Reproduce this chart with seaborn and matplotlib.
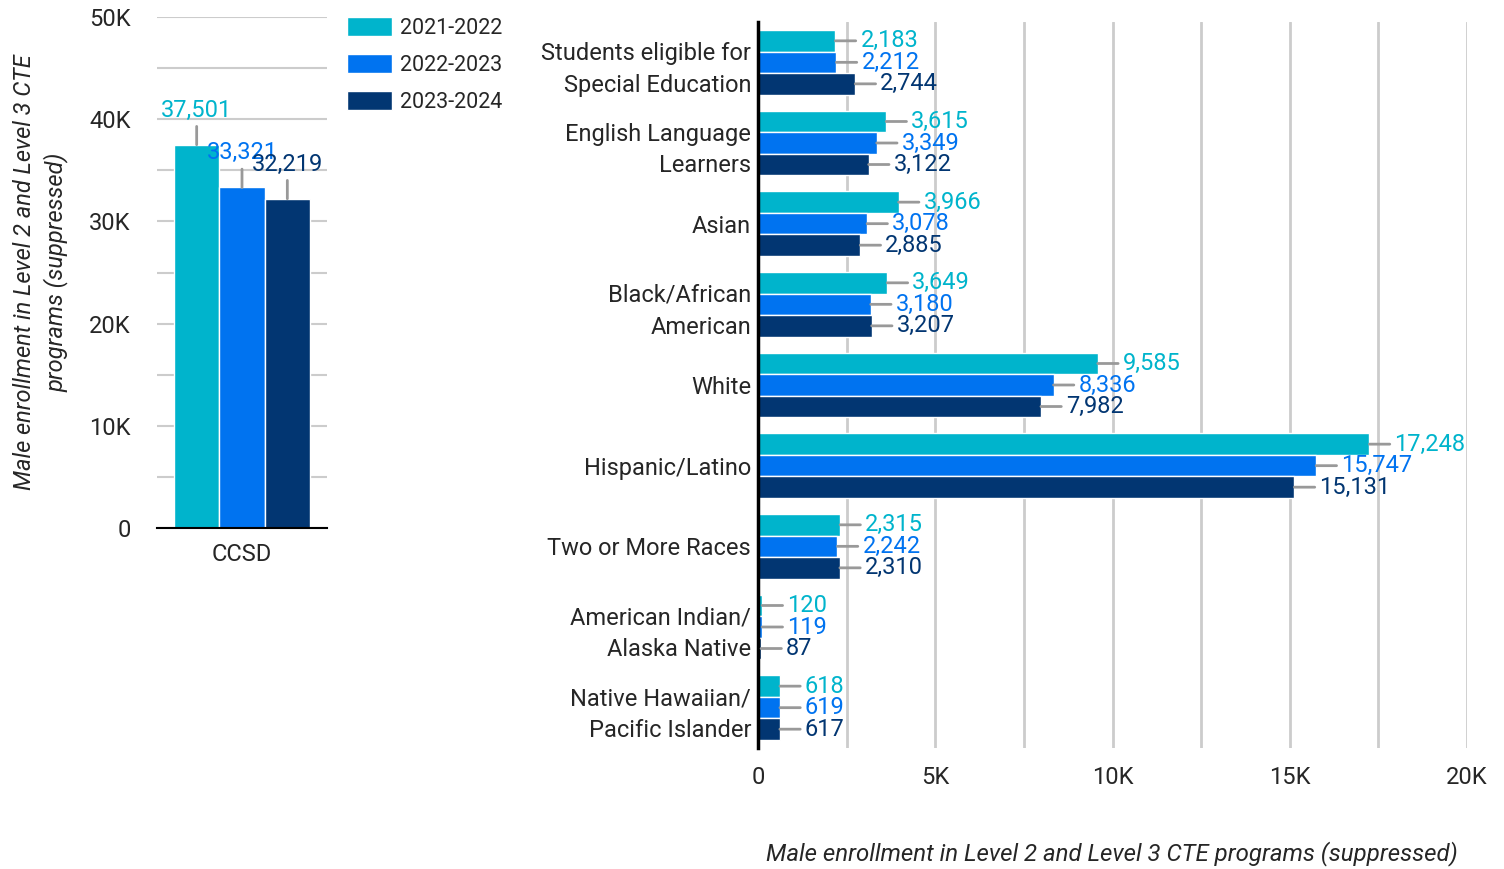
import pandas as pd
import seaborn as sns
import matplotlib.pyplot as plt
from matplotlib.ticker import MultipleLocator, FuncFormatter

# Series / categories
years = ["2021-2022", "2022-2023", "2023-2024"]
colors = ["#00B4CC", "#0073F0", "#023672"]

ccsd_values = [37501, 33321, 32219]

groups = [
    "Students eligible for\nSpecial Education",
    "English Language\nLearners",
    "Asian",
    "Black/African\nAmerican",
    "White",
    "Hispanic/Latino",
    "Two or More Races",
    "American Indian/\nAlaska Native",
    "Native Hawaiian/\nPacific Islander",
]
v_2122 = [2183, 3615, 3966, 3649, 9585, 17248, 2315, 120, 618]
v_2223 = [2212, 3349, 3078, 3180, 8336, 15747, 2242, 119, 619]
v_2324 = [2744, 3122, 2885, 3207, 7982, 15131, 2310, 87, 617]

axis_label = "Male enrollment in Level 2 and Level 3 CTE programs (suppressed)"

# Build long-form tables
left_df = pd.DataFrame({"district": ["CCSD"] * 3, "year": years, "value": ccsd_values})
right_df = pd.DataFrame({
    "group": groups * 3,
    "year": [years[0]] * 9 + [years[1]] * 9 + [years[2]] * 9,
    "value": v_2122 + v_2223 + v_2324,
})

sns.set_style("white")
plt.rcParams["font.family"] = ["Roboto", "DejaVu Sans"]

FS = 17

fig = plt.figure(figsize=(15.04, 8.69), dpi=100)
ax_l = fig.add_axes([157 / 1504, 341 / 869, 170 / 1504, 511 / 869])
ax_r = fig.add_axes([758 / 1504, 121 / 869, 709 / 1504, 726 / 869])

kfmt = FuncFormatter(lambda v, p: "0" if v == 0 else f"{int(v / 1000)}K")
grid_c = "#CCCCCC"
lead_c = "#999999"

# Left: CCSD total
sns.barplot(data=left_df, x="district", y="value", hue="year", palette=colors,
            hue_order=years, ax=ax_l, edgecolor="white", linewidth=1, saturation=1)
ax_l.set_ylim(0, 50000)
ax_l.yaxis.set_major_locator(MultipleLocator(10000))
ax_l.yaxis.set_minor_locator(MultipleLocator(5000))
ax_l.yaxis.set_major_formatter(kfmt)
ax_l.grid(axis="y", which="both", color=grid_c, linewidth=1.5)
ax_l.set_axisbelow(True)
ax_l.tick_params(axis="y", which="both", length=0, pad=19, labelsize=FS)
ax_l.tick_params(axis="x", length=0, pad=11, labelsize=FS)
ax_l.set_xlabel("")
ax_l.set_ylabel("Male enrollment in Level 2 and Level 3 CTE\nprograms (suppressed)",
                fontsize=FS, style="italic", linespacing=1.4)
ax_l.yaxis.set_label_coords(-0.52, 0.5)
for s in ["left", "right", "top"]:
    ax_l.spines[s].set_visible(False)
ax_l.spines["bottom"].set_color("black")
ax_l.spines["bottom"].set_linewidth(1.5)

for cont, col in zip(ax_l.containers, colors):
    for bar in cont:
        h = bar.get_height()
        ax_l.annotate(f"{h:,.0f}", xy=(bar.get_x() + bar.get_width() / 2, h),
                      xytext=(0, 23), textcoords="offset pixels",
                      ha="center", va="bottom", color=col, fontsize=FS,
                      arrowprops=dict(arrowstyle="-", color=lead_c, lw=2,
                                      shrinkA=1, shrinkB=0))

handles, labels = ax_l.get_legend_handles_labels()
ax_l.get_legend().remove()
fig.legend(handles, labels, loc="upper left", bbox_to_anchor=(347 / 1504, 1 - 17 / 869),
           frameon=False, fontsize=15.5, handlelength=2.1, handleheight=1.0,
           handletextpad=0.35, labelspacing=0.7, borderpad=0, borderaxespad=0)

# Right: by student group
sns.barplot(data=right_df, y="group", x="value", hue="year", palette=colors,
            hue_order=years, order=groups, orient="h", ax=ax_r,
            edgecolor="white", linewidth=1, saturation=1)
ax_r.set_xlim(0, 20000)
ax_r.xaxis.set_major_locator(MultipleLocator(5000))
ax_r.xaxis.set_minor_locator(MultipleLocator(2500))
ax_r.xaxis.set_major_formatter(kfmt)
ax_r.grid(axis="x", which="both", color=grid_c, linewidth=2)
ax_r.set_axisbelow(True)
ax_r.tick_params(axis="x", which="both", length=0, pad=13, labelsize=FS)
ax_r.tick_params(axis="y", length=0, pad=5, labelsize=FS)
for t in ax_r.get_yticklabels():
    t.set_linespacing(1.5)
ax_r.set_ylabel("")
ax_r.set_xlabel(axis_label, fontsize=17.3, style="italic", loc="right")
ax_r.xaxis.set_label_coords((1458 - 758) / 709, -0.128)
ax_r.get_legend().remove()
for s in ["right", "top", "bottom"]:
    ax_r.spines[s].set_visible(False)
ax_r.spines["left"].set_color("black")
ax_r.spines["left"].set_linewidth(2.5)

for cont, col in zip(ax_r.containers, colors):
    for bar in cont:
        w = bar.get_width()
        ax_r.annotate(f"{w:,.0f}", xy=(w, bar.get_y() + bar.get_height() / 2),
                      xytext=(25, 0), textcoords="offset pixels",
                      ha="left", va="center", color=col, fontsize=FS,
                      arrowprops=dict(arrowstyle="-", color=lead_c, lw=2,
                                      shrinkA=1, shrinkB=0))

fig.savefig("out.png", dpi=100)
